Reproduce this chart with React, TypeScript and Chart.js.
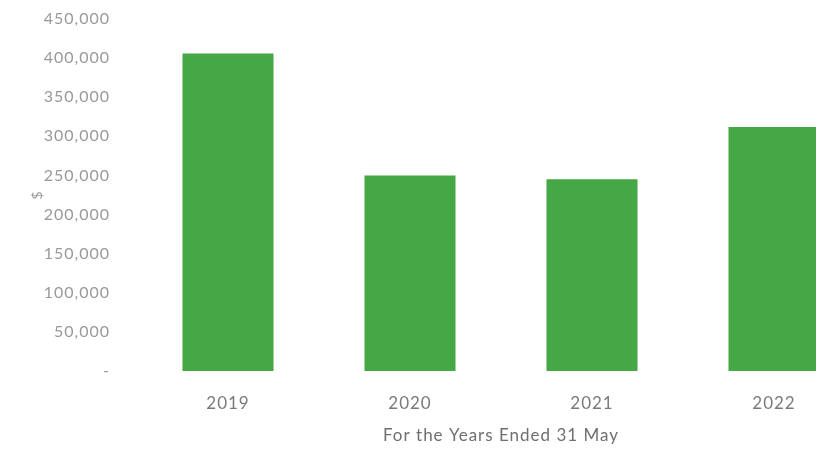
import React, { useEffect, useRef } from "react";
import { Chart, registerables } from "chart.js";

Chart.register(...registerables);

const years = ["2019", "2020", "2021", "2022"];
const values = [406000, 250000, 245000, 312000];
const yTicks = [0, 50000, 100000, 150000, 200000, 250000, 300000, 350000, 400000, 450000];

const FONT = "Lato, 'Open Sans', sans-serif";

const spacingPlugin = {
  id: "spacing",
  beforeDraw: (chart: any) => {
    try {
      chart.ctx.letterSpacing = "1px";
    } catch (e) {}
  },
};

export default function App() {
  const ref = useRef<HTMLCanvasElement | null>(null);

  useEffect(() => {
    if (!ref.current) return;
    const chart = new Chart(ref.current, {
      type: "bar",
      plugins: [spacingPlugin],
      data: {
        labels: years,
        datasets: [
          {
            data: values,
            backgroundColor: "#45a845",
            borderWidth: 0,
            barPercentage: 0.5,
            categoryPercentage: 1.0,
          },
        ],
      },
      options: {
        animation: false,
        responsive: false,
        maintainAspectRatio: false,
        layout: { padding: { left: 25, top: 19, right: 5, bottom: 0 } },
        plugins: { legend: { display: false }, tooltip: { enabled: false } },
        scales: {
          x: {
            grid: { display: false, drawTicks: false },
            border: { display: false },
            ticks: {
              padding: 22,
              color: "#7a7a7a",
              font: { family: FONT, size: 17 },
            },
            title: {
              display: true,
              text: "For the Years Ended 31 May",
              color: "#6f6f6f",
              font: { family: FONT, size: 17 },
              padding: { top: 4, bottom: 3 },
            },
            afterFit: (s: any) => {
              s.height = 78;
              s.paddingLeft = 0;
              s.paddingRight = 0;
            },
          },
          y: {
            min: 0,
            max: 450000,
            afterBuildTicks: (s: any) => {
              s.ticks = yTicks.map((v) => ({ value: v }));
            },
            grid: { display: false, drawTicks: false },
            border: { display: false },
            ticks: {
              padding: 27,
              color: "#999999",
              font: { family: FONT, size: 16 },
              callback: (v: any) => (Number(v) === 0 ? "-" : Number(v).toLocaleString("en-US")),
            },
            title: {
              display: true,
              text: "$",
              color: "#999999",
              font: { family: FONT, size: 14 },
              padding: { top: 4, bottom: 4 },
            },
            afterFit: (s: any) => {
              s.width = 112;
              s.paddingTop = 0;
              s.paddingBottom = 0;
            },
          },
        },
      },
    });
    return () => chart.destroy();
  }, []);

  return (
    <div style={{ position: "fixed", left: 0, top: 0, width: 870, height: 449, background: "#fff" }}>
      <canvas ref={ref} width={870} height={449} style={{ width: 870, height: 449, display: "block" }} />
    </div>
  );
}
